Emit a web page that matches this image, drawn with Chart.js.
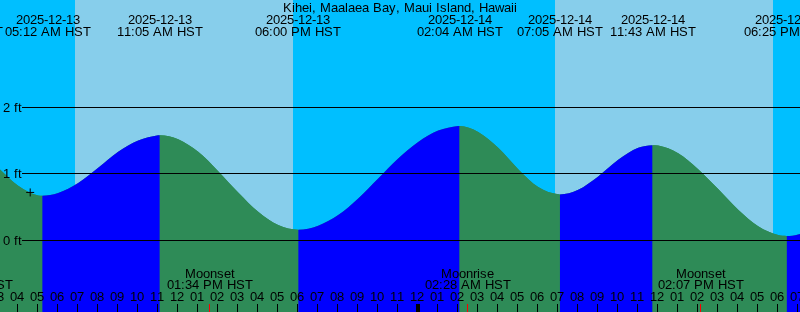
<!DOCTYPE html>
<html>
<head>
<meta charset="utf-8">
<title>Kihei, Maalaea Bay tides</title>
<script src="https://cdn.jsdelivr.net/npm/chart.js@4.4.1/dist/chart.umd.min.js"></script>
<style>
  html, body { margin: 0; padding: 0; background: #87ceeb; }
  #wrap { width: 800px; height: 312px; }
</style>
</head>
<body>
<div id="wrap"><canvas id="tideChart" width="800" height="312"></canvas></div>
<script>
// hours counted from 2025-12-13 00:00 HST
const tideHours = [1.08, 2, 3, 4, 5, 5.2, 6, 7, 8, 9, 10, 11, 11.08, 12, 13, 14, 15, 16, 17, 18,
    19, 20, 21, 22, 23, 24, 25, 26, 26.07, 27, 28, 29, 30, 31, 31.08, 32, 33, 34, 35, 35.72,
    36, 37, 38, 39, 40, 41, 42, 42.42, 43, 44];
const tideFeet = [1.44, 1.34, 1.09, 0.82, 0.674, 0.67, 0.71, 0.86, 1.09, 1.33, 1.50, 1.578, 1.58, 1.52, 1.33, 1.04, 0.72, 0.43, 0.23, 0.16,
    0.22, 0.38, 0.63, 0.93, 1.23, 1.48, 1.65, 1.719, 1.72, 1.63, 1.39, 1.07, 0.80, 0.691, 0.69, 0.76, 0.96, 1.21, 1.39, 1.43,
    1.424, 1.31, 1.07, 0.77, 0.46, 0.21, 0.078, 0.065, 0.087, 0.22];

// high / low tide events
const eventHours = [1.08, 5.2, 11.08, 18.0, 26.07, 31.08, 35.72, 42.42];
const eventDates = ['2025-12-13', '2025-12-13', '2025-12-13', '2025-12-13', '2025-12-14', '2025-12-14', '2025-12-14', '2025-12-14'];
const eventClock = ['01:05 AM HST', '05:12 AM HST', '11:05 AM HST', '06:00 PM HST', '02:04 AM HST', '07:05 AM HST', '11:43 AM HST', '06:25 PM HST'];

// moon events
const moonHours = [1.6, 13.57, 26.47, 38.12];
const moonNames = ['Moonrise', 'Moonset', 'Moonrise', 'Moonset'];
const moonClock = ['01:36 AM HST', '01:34 PM HST', '02:28 AM HST', '02:07 PM HST'];

// night spans (sunset -> sunrise)
const sunsetHours = [-6.25, 17.75, 41.75];
const sunriseHours = [6.85, 30.85, 54.85];

const gridFeet = [0, 1, 2];
const markHour = [4.6];
const markFeet = [0.72];

const RISING = '#0000ff';
const FALLING = '#2e8b57';
const DAY = '#87ceeb';
const NIGHT = '#00bfff';
const FONT = '13px "Liberation Sans", Arial, sans-serif';

// draws text glyph by glyph with whole-pixel advances (like the hinted original)
function drawText(ctx, str, x, y, align) {
    const chars = [...str];
    const adv = chars.map(ch => Math.round(ctx.measureText(ch).width));
    const w = adv.reduce((s, v) => s + v, 0);
    let px = align === 'center' ? Math.round(x - w / 2) : Math.round(x);
    ctx.textAlign = 'left';
    chars.forEach((ch, i) => { ctx.fillText(ch, px, y); px += adv[i]; });
    return w;
}

function textWidth(ctx, str) {
    return [...str].reduce((s, ch) => s + Math.round(ctx.measureText(ch).width), 0);
}

const backdrop = {
    id: 'backdrop',
    beforeDatasetsDraw(chart) {
        const { ctx, chartArea: a, scales: { x } } = chart;
        ctx.save();
        ctx.fillStyle = DAY;
        ctx.fillRect(a.left, a.top, a.right - a.left, a.bottom - a.top);
        ctx.fillStyle = NIGHT;
        sunsetHours.forEach((s, i) => {
            const x0 = Math.round(x.getPixelForValue(s));
            const x1 = Math.round(x.getPixelForValue(sunriseHours[i]));
            ctx.fillRect(x0, a.top, x1 - x0, a.bottom - a.top);
        });
        ctx.restore();
    }
};

function hourLabel(h) {
    const v = ((Math.round(h) % 12) + 12) % 12 || 12;
    return String(v).padStart(2, '0');
}

const overlay = {
    id: 'overlay',
    afterDatasetsDraw(chart) {
        const { ctx, chartArea: a, scales: { x, y } } = chart;
        ctx.save();
        ctx.font = FONT;
        ctx.fillStyle = '#000';

        // height grid lines with labels
        gridFeet.forEach(f => {
            const py = Math.floor(y.getPixelForValue(f));
            ctx.fillRect(22, py, a.right - 22, 1);
            drawText(ctx, f + ' ft', 3, py + 5, 'left');
        });

        // title
        drawText(ctx, 'Kihei, Maalaea Bay, Maui Island, Hawaii', (a.left + a.right) / 2, 12, 'center');

        // tide event labels, pushed right if they would overlap
        let lastRight = -1e9;
        eventHours.forEach((t, i) => {
            let cx = x.getPixelForValue(t);
            const w = Math.max(textWidth(ctx, eventDates[i]), textWidth(ctx, eventClock[i]));
            if (cx - w / 2 < lastRight + 2) cx = lastRight + 2 + w / 2;
            lastRight = cx + w / 2;
            drawText(ctx, eventDates[i], cx, 24, 'center');
            drawText(ctx, eventClock[i], cx, 36, 'center');
        });

        // moon labels
        moonHours.forEach((t, i) => {
            const cx = x.getPixelForValue(t);
            drawText(ctx, moonNames[i], cx, 278, 'center');
            drawText(ctx, moonClock[i], cx, 289, 'center');
        });

        // hour labels and ticks
        for (let h = Math.floor(x.min); h <= Math.ceil(x.max); h++) {
            const px = x.getPixelForValue(h);
            drawText(ctx, hourLabel(h), px - 1, 301, 'center');
            const tx = Math.round(px - 1);
            if (h % 24 === 0) ctx.fillRect(tx - 1, 304, 4, 8);
            else ctx.fillRect(tx, 304, 1, 8);
        }

        // moon ticks
        ctx.fillStyle = '#ff0000';
        moonHours.forEach(t => {
            ctx.fillRect(Math.round(x.getPixelForValue(t) - 1), 304, 1, 8);
        });
        ctx.restore();
    }
};

const tidePoints = tideHours.map((t, i) => ({ x: t, y: tideFeet[i] }));

const ctx = document.getElementById('tideChart').getContext('2d');
const tideChart = new Chart(ctx, {
    type: 'line',
    data: {
        datasets: [
            {
                label: 'mark',
                data: markHour.map((t, i) => ({ x: t, y: markFeet[i] })),
                showLine: false,
                pointStyle: 'cross',
                pointRadius: 4,
                pointBorderColor: '#000',
                pointBorderWidth: 1,
                order: 0
            },
            {
                // rising / falling colouring
                label: 'Tide (ft)',
                data: tidePoints,
                cubicInterpolationMode: 'monotone',
                borderColor: 'rgba(0,0,0,0)',
                borderWidth: 0,
                pointRadius: 0,
                fill: 'start',
                backgroundColor: FALLING,
                segment: {
                    backgroundColor: c => c.p1.parsed.y >= c.p0.parsed.y ? RISING : FALLING
                },
                order: 1
            },
            {
                // plain underlay so the colour joins have no seams
                label: 'underlay',
                data: tidePoints,
                cubicInterpolationMode: 'monotone',
                borderColor: 'rgba(0,0,0,0)',
                borderWidth: 0,
                pointRadius: 0,
                fill: 'start',
                backgroundColor: FALLING,
                order: 2
            }
        ]
    },
    options: {
        responsive: false,
        animation: false,
        events: [],
        layout: { padding: 0, autoPadding: false },
        scales: {
            x: { type: 'linear', display: false, min: 3.09, max: 43.09 },
            y: { display: false, min: -1.078, max: 3.6135 }
        },
        plugins: {
            legend: { display: false },
            tooltip: { enabled: false }
        }
    },
    plugins: [backdrop, overlay]
});
</script>
</body>
</html>
